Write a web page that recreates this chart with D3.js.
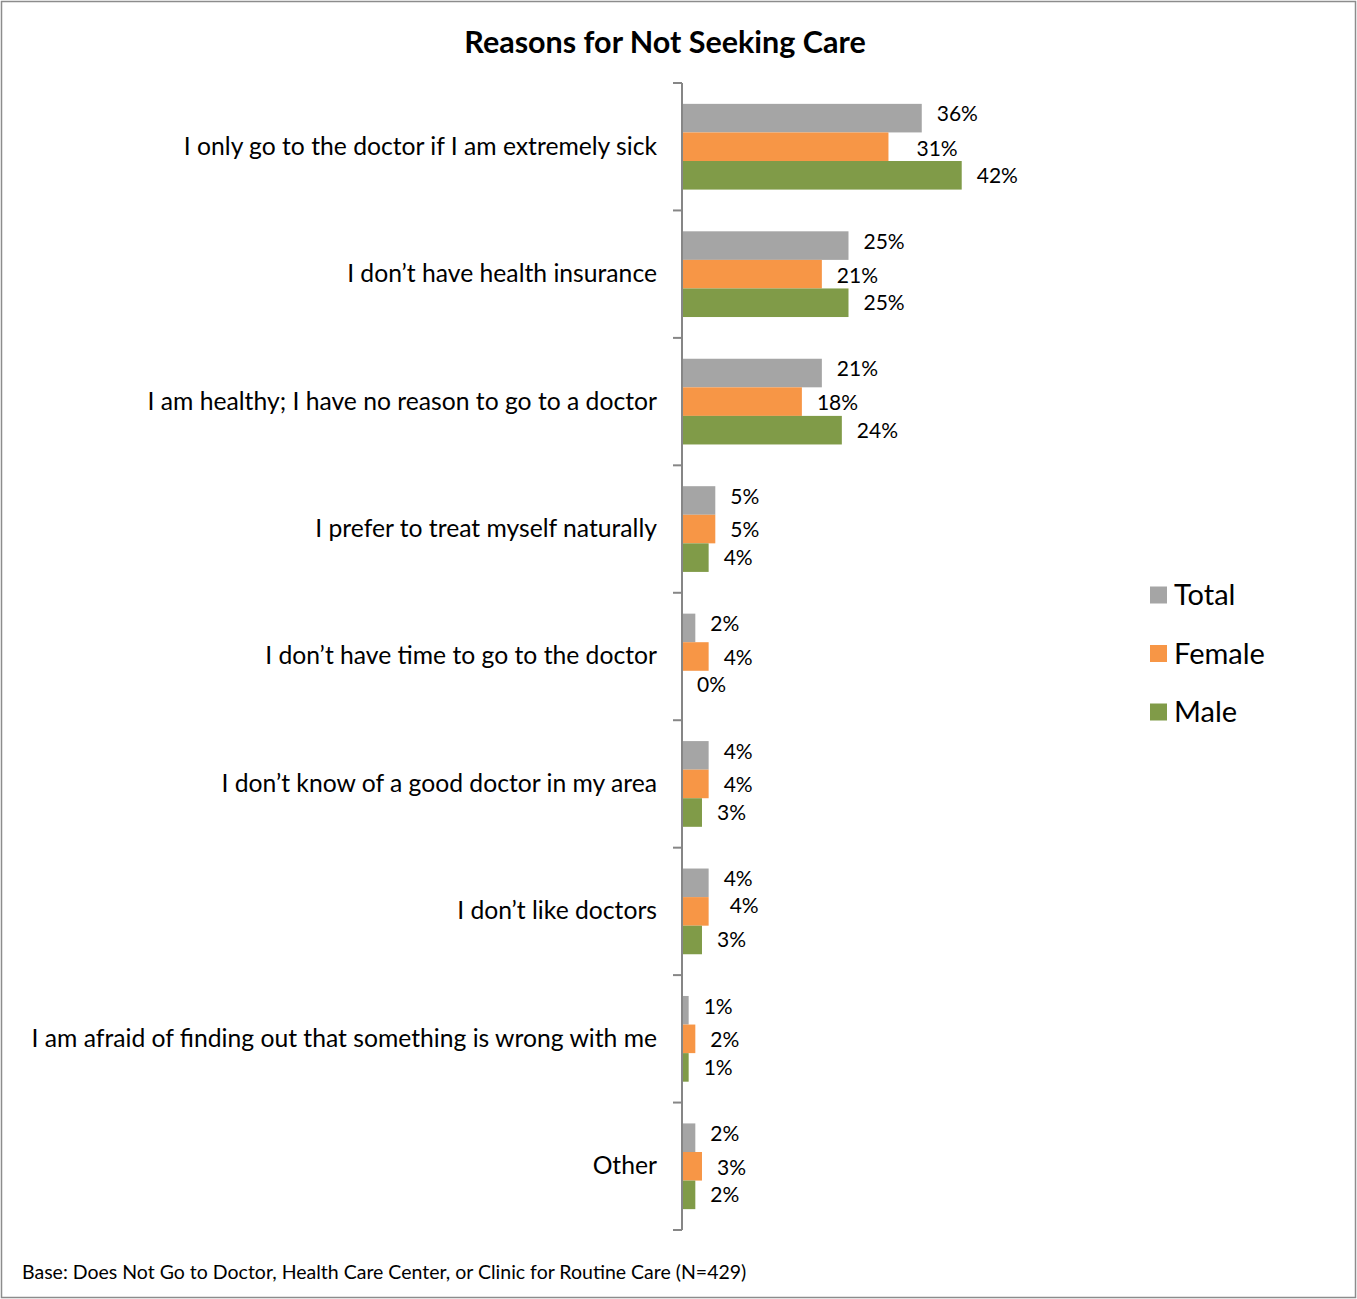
<!DOCTYPE html>
<html lang="en">
<head>
	<meta charset="utf-8">
	<title>Reasons for Not Seeking Care</title>
	<style>
		body {
			margin: 0;
			background-color: #ffffff;
		}
		text {
			font-family: Lato, "Open Sans", sans-serif;
			fill: #000;
		}
	</style>
</head>
<body>
	<div id="chart"></div>

	<script src="https://cdnjs.cloudflare.com/ajax/libs/d3/7.8.5/d3.min.js"></script>
	<script>
		// data (percent)
		var categories = [
			"I only go to the doctor if I am extremely sick",
			"I don\u2019t have health insurance",
			"I am healthy; I have no reason to go to a doctor",
			"I prefer to treat myself naturally",
			"I don\u2019t have time to go to the doctor",
			"I don\u2019t know of a good doctor in my area",
			"I don\u2019t like doctors",
			"I am afraid of finding out that something is wrong with me",
			"Other"
		];
		var seriesNames = ["Total", "Female", "Male"];
		var totalValues  = [36, 25, 21, 5, 2, 4, 4, 1, 2];
		var femaleValues = [31, 21, 18, 5, 4, 4, 4, 2, 3];
		var maleValues   = [42, 25, 24, 4, 0, 3, 3, 1, 2];
		var title = "Reasons for Not Seeking Care";
		var footnote = "Base: Does Not Go to Doctor, Health Care Center, or Clinic for Routine Care (N=429)";

		var colors = {Total: "#a5a5a5", Female: "#f79646", Male: "#809b48"};
		var labelDy = {Total: -4, Female: 1, Male: 0};
		// a couple of labels were nudged by hand in the original
		var nudge = {"0|Female": [13, 1], "6|Female": [6, -7]};

		var width = 1357,
			height = 1299;

		var svg = d3.select("#chart")
			.append("svg")
			.attr("width", width)
			.attr("height", height);

		// outer frame
		svg.append("rect")
			.attr("x", 1.5)
			.attr("y", 1.5)
			.attr("width", width - 3)
			.attr("height", height - 3)
			.attr("fill", "none")
			.attr("stroke", "#8c8c8c")
			.attr("stroke-width", 1.5);

		svg.append("text")
			.attr("x", 665)
			.attr("y", 53)
			.attr("text-anchor", "middle")
			.style("font-size", "30.5px")
			.style("font-weight", "bold")
			.text(title);

		var rows = categories.map(function(c, i) {
			return {
				category: c,
				values: [
					{series: "Total", value: totalValues[i], idx: i},
					{series: "Female", value: femaleValues[i], idx: i},
					{series: "Male", value: maleValues[i], idx: i}
				]
			};
		});

		var y = d3.scaleBand()
			.domain(categories)
			.range([83, 1230])
			.paddingInner(0)
			.paddingOuter(0);

		var ySub = d3.scaleBand()
			.domain(seriesNames)
			.range([0, y.bandwidth()])
			.paddingInner(0)
			.paddingOuter(0.73);

		var x = d3.scaleLinear()
			.domain([0, 45])
			.range([682, 682 + 45 * 6.66]);

		var groups = svg.selectAll(".group")
			.data(rows)
			.enter().append("g")
			.attr("class", "group")
			.attr("transform", function(d) { return "translate(0," + y(d.category) + ")"; });

		groups.selectAll("rect")
			.data(function(d) { return d.values; })
			.enter().append("rect")
			.attr("x", x(0))
			.attr("y", function(d) { return ySub(d.series); })
			.attr("width", function(d) { return x(d.value) - x(0); })
			.attr("height", ySub.bandwidth())
			.attr("fill", function(d) { return colors[d.series]; });

		groups.selectAll(".lbl")
			.data(function(d) { return d.values; })
			.enter().append("text")
			.attr("class", "lbl")
			.attr("x", function(d) {
				var n = nudge[d.idx + "|" + d.series] || [0, 0];
				return x(d.value) + 15 + n[0];
			})
			.attr("y", function(d) {
				var n = nudge[d.idx + "|" + d.series] || [0, 0];
				return ySub(d.series) + ySub.bandwidth() / 2 + labelDy[d.series] + n[1];
			})
			.attr("dy", "0.35em")
			.style("font-size", "21px")
			.text(function(d) { return d3.format(".0f")(d.value) + "%"; });

		// category axis on the left of the bars
		var yAxis = d3.axisLeft(y)
			.tickSize(0)
			.tickPadding(25);

		var axisG = svg.append("g")
			.attr("transform", "translate(" + x(0) + ",0)")
			.call(yAxis);

		axisG.select(".domain")
			.attr("stroke", "#868686")
			.attr("stroke-width", 2)
			.attr("d", "M0," + y.range()[0] + "V" + y.range()[1]);

		axisG.selectAll(".tick text")
			.style("font-size", "24.7px")
			.style("font-family", "Lato, 'Open Sans', sans-serif")
			.attr("fill", "#000");

		// tick marks between categories
		var bounds = categories.map(function(c) { return y(c); }).concat([y.range()[1]]);
		axisG.selectAll(".sep")
			.data(bounds)
			.enter().append("line")
			.attr("class", "sep")
			.attr("x1", -9)
			.attr("x2", 0)
			.attr("y1", function(d) { return d; })
			.attr("y2", function(d) { return d; })
			.attr("stroke", "#868686")
			.attr("stroke-width", 2);

		// legend
		var legend = svg.selectAll(".legend")
			.data(seriesNames)
			.enter().append("g")
			.attr("class", "legend")
			.attr("transform", function(d, i) { return "translate(1150," + (595 + i * 58.5) + ")"; });

		legend.append("rect")
			.attr("x", 0)
			.attr("y", -8.5)
			.attr("width", 17)
			.attr("height", 17)
			.attr("fill", function(d) { return colors[d]; });

		legend.append("text")
			.attr("x", 24)
			.attr("y", 0)
			.attr("dy", "0.35em")
			.style("font-size", "29px")
			.text(function(d) { return d; });

		svg.append("text")
			.attr("x", 22)
			.attr("y", 1279)
			.style("font-size", "19.5px")
			.text(footnote);
	</script>
</body>
</html>
